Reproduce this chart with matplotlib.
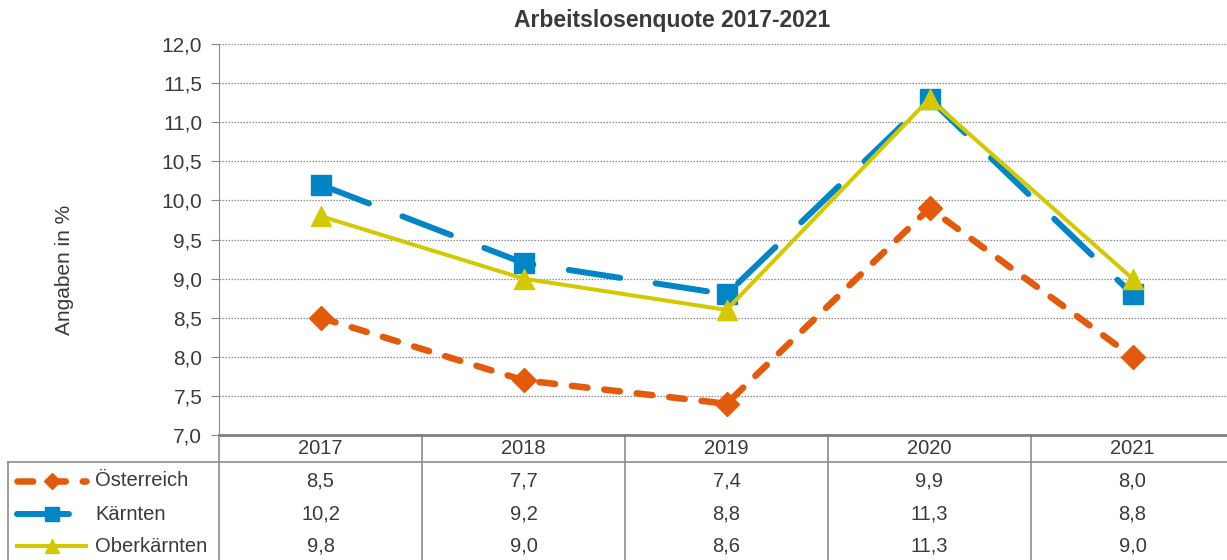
import matplotlib.pyplot as plt
import matplotlib.transforms as mtransforms
import numpy as np

plt.rcParams['font.family'] = ['Liberation Sans', 'DejaVu Sans']

years = ['2017', '2018', '2019', '2020', '2021']
oesterreich = [8.5, 7.7, 7.4, 9.9, 8.0]
kaernten = [10.2, 9.2, 8.8, 11.3, 8.8]
oberkaernten = [9.8, 9.0, 8.6, 11.3, 9.0]
series_names = ['Österreich', 'Kärnten', 'Oberkärnten']

W, H = 1227, 560
fig = plt.figure(figsize=(W / 100, H / 100), dpi=100)


def fx(px):
    return px / W


def fy(py):
    return 1 - py / H


ax = fig.add_axes([fx(219), fy(435), fx(1234) - fx(219), fy(44) - fy(435)])

orange = '#E35A0A'
blue = '#0086C6'
yellow = '#D4C900'
txt = '#3a3a3a'
grid = '#8c8c8c'

styles = [
    dict(color=orange, lw=4.7, marker='D', ms=12, dashes=(2.4, 2.6),
         dash_capstyle='round'),
    dict(color=blue, lw=4.3, marker='s', ms=14.5, dashes=(8.7, 6.0),
         dash_capstyle='round'),
    dict(color=yellow, lw=2.9, marker='^', ms=15, ls='-'),
]
data = [oesterreich, kaernten, oberkaernten]

x = np.arange(len(years))
for vals, st in zip(data, styles):
    ax.plot(x, vals, **st, clip_on=False, zorder=3)

ax.set_xlim(-0.5, len(years) - 0.5)
ax.set_ylim(7.0, 12.0)
ax.set_yticks(np.arange(7.0, 12.01, 0.5))
ax.set_yticklabels([f'{v:.1f}'.replace('.', ',') for v in np.arange(7.0, 12.01, 0.5)],
                   fontsize=15, color=txt)
ax.set_xticks([])
ax.yaxis.grid(True, color=grid, ls=(0, (1.2, 1.2)), lw=0.9)
ax.set_axisbelow(True)
for s in ['top', 'right']:
    ax.spines[s].set_visible(False)
ax.spines['left'].set_color(grid)
ax.spines['bottom'].set_color('#7f7f7f')
ax.spines['bottom'].set_linewidth(2)
ax.tick_params(axis='y', length=6, color=grid, pad=6)

fig.text(fx(672), fy(20), 'Arbeitslosenquote 2017-2021', ha='center', va='center',
         fontsize=16.5, fontweight='bold', color=txt)
fig.text(fx(65), fy(270), 'Angaben in %', rotation=90, ha='center', va='center',
         fontsize=15, color=txt)

# data table below the axes
tr = mtransforms.blended_transform_factory(ax.transData, fig.transFigure)
line_kw = dict(color='#8c8c8c', lw=1.2, clip_on=False)
# left axis line continues through table
fig.add_artist(plt.Line2D([fx(219), fx(219)], [fy(435), fy(562)], **line_kw))
for b in np.arange(0.5, len(years) - 0.5, 1.0):
    ax.plot([b, b], [fy(435), fy(562)], transform=tr, **line_kw)
fig.add_artist(plt.Line2D([fx(8), 1], [fy(462), fy(462)], **line_kw))
fig.add_artist(plt.Line2D([fx(8), fx(8)], [fy(462), fy(562)], **line_kw))

for i, yr in enumerate(years):
    ax.text(i, fy(449), yr, transform=tr, ha='center', va='center',
            fontsize=14.5, color=txt)

row_y = [481, 514, 546]
for name, vals, st, ry in zip(series_names, data, styles, row_y):
    for i, v in enumerate(vals):
        ax.text(i, fy(ry), f'{v:.1f}'.replace('.', ','), transform=tr,
                ha='center', va='center', fontsize=14.5, color=txt)
    ln = plt.Line2D([fx(17), fx(86)], [fy(ry), fy(ry)], **{k: v for k, v in st.items()
                                                        if k not in ('marker', 'ms')})
    fig.add_artist(ln)
    mk = plt.Line2D([fx(52)], [fy(ry)], color=st['color'], marker=st['marker'],
                    ms=st['ms'] * 0.7, ls='none')
    fig.add_artist(mk)
    fig.text(fx(95), fy(ry), name, ha='left', va='center', fontsize=14.5, color=txt)

fig.savefig('out.png', dpi=100)
